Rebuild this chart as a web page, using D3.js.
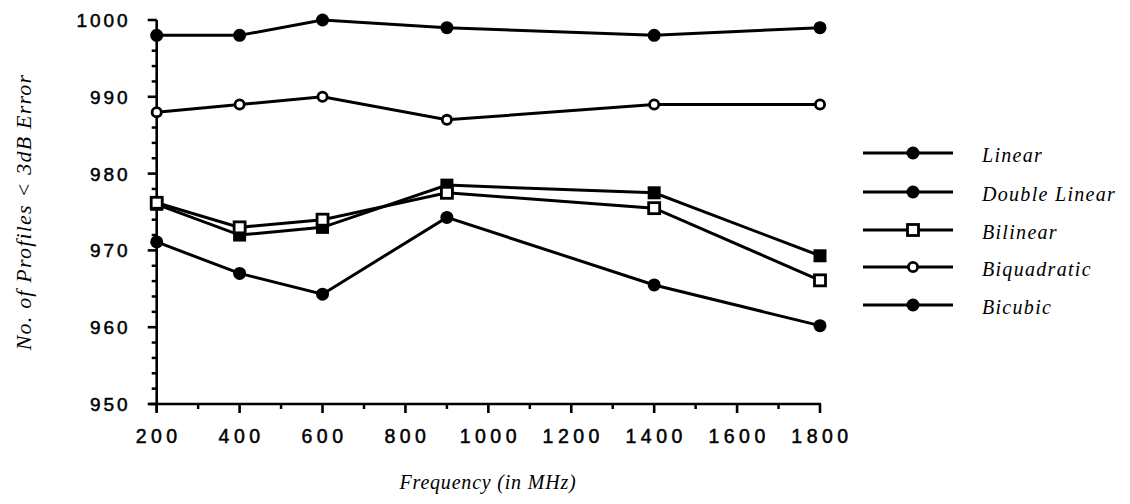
<!DOCTYPE html>
<html><head><meta charset="utf-8">
<script src="https://cdn.jsdelivr.net/npm/d3@7"></script>
<style>body{margin:0;background:#fff}svg{display:block}</style>
</head><body>
<script>
const freqs = [200, 400, 600, 900, 1400, 1800];
const topFilled = [998, 998, 1000, 999, 998, 999];
const biquadratic = [988, 989, 990, 987, 989, 989];
const doubleLinearSq = [976, 972, 973, 978.5, 977.5, 969.3];
const bilinear = [976.2, 973, 974, 977.5, 975.5, 966.1];
const bottomFilled = [971.1, 967, 964.3, 974.3, 965.5, 960.2];
const legendLabels = ["Linear", "Double Linear", "Bilinear", "Biquadratic", "Bicubic"];
const legendMarkers = ["fcircle", "fcircle", "osquare", "ocircle", "fcircle"];
const xTicks = [200, 400, 600, 800, 1000, 1200, 1400, 1600, 1800];
const yTicks = [950, 960, 970, 980, 990, 1000];

const series = [
  {v: topFilled, m: "fcircle"},
  {v: biquadratic, m: "ocircle"},
  {v: doubleLinearSq, m: "fsquare"},
  {v: bilinear, m: "osquare"},
  {v: bottomFilled, m: "fcircle"}
];

const W = 1130, H = 504;
const svg = d3.select("body").append("svg").attr("width", W).attr("height", H);
const x = d3.scaleLinear().domain([200, 1800]).range([156.7, 820]);
const y = d3.scaleLinear().domain([950, 1000]).range([404, 20]);

const tickFont = "'Liberation Sans', Arial, sans-serif";
const serif = "'Liberation Serif', 'Times New Roman', serif";

// axes lines
svg.append("line").attr("x1", x(200)).attr("x2", x(200)).attr("y1", y(1000)).attr("y2", y(950) + 8)
  .attr("stroke", "#000").attr("stroke-width", 2.6);
svg.append("line").attr("x1", x(200) - 8).attr("x2", x(1800) + 1).attr("y1", y(950)).attr("y2", y(950))
  .attr("stroke", "#000").attr("stroke-width", 2.6);

// y ticks
const yMinor = d3.range(952, 1000, 2).filter(d => d % 10 !== 0);
svg.selectAll(".ymaj").data(yTicks).join("line")
  .attr("x1", x(200) - 9).attr("x2", x(200)).attr("y1", d => y(d)).attr("y2", d => y(d))
  .attr("stroke", "#000").attr("stroke-width", 2.6);
svg.selectAll(".ymin").data(yMinor).join("line")
  .attr("x1", x(200) - 5).attr("x2", x(200)).attr("y1", d => y(d)).attr("y2", d => y(d))
  .attr("stroke", "#000").attr("stroke-width", 2.5);
svg.selectAll(".ylab").data(yTicks).join("text")
  .attr("x", x(200) - 26).attr("y", d => y(d) + 7)
  .attr("text-anchor", "end").attr("font-family", tickFont).attr("font-size", 19)
  .attr("stroke", "#000").attr("stroke-width", 0.5)
  .attr("letter-spacing", 3).text(d => d);

// x ticks
const xMinor = d3.range(300, 1800, 200);
svg.selectAll(".xmaj").data(xTicks).join("line")
  .attr("x1", d => x(d)).attr("x2", d => x(d)).attr("y1", y(950)).attr("y2", y(950) + 9)
  .attr("stroke", "#000").attr("stroke-width", 2.6);
svg.selectAll(".xmin").data(xMinor).join("line")
  .attr("x1", d => x(d)).attr("x2", d => x(d)).attr("y1", y(950)).attr("y2", y(950) + 5)
  .attr("stroke", "#000").attr("stroke-width", 2.5);
svg.selectAll(".xlab").data(xTicks).join("text")
  .attr("x", d => x(d) + 2).attr("y", 443)
  .attr("text-anchor", "middle").attr("font-family", tickFont).attr("font-size", 19.5)
  .attr("stroke", "#000").attr("stroke-width", 0.5)
  .attr("letter-spacing", 4.5).text(d => d);

// axis titles
svg.append("text").attr("x", 488).attr("y", 489).attr("text-anchor", "middle")
  .attr("font-family", serif).attr("font-style", "italic").attr("font-size", 20)
  .attr("letter-spacing", 0.8)
  .text("Frequency (in MHz)");
svg.append("text").attr("transform", "translate(31,212) rotate(-90)").attr("text-anchor", "middle")
  .attr("font-family", serif).attr("font-style", "italic").attr("font-size", 22)
  .attr("letter-spacing", 1.2)
  .text("No. of Profiles < 3dB Error");

function marker(g, type, cx, cy) {
  if (type === "fcircle") g.append("circle").attr("cx", cx).attr("cy", cy).attr("r", 6.5).attr("fill", "#000");
  else if (type === "ocircle") g.append("circle").attr("cx", cx).attr("cy", cy).attr("r", 4.6).attr("fill", "#fff").attr("stroke", "#000").attr("stroke-width", 2.8);
  else if (type === "fsquare") g.append("rect").attr("x", cx - 6.5).attr("y", cy - 6.5).attr("width", 13).attr("height", 13).attr("fill", "#000");
  else if (type === "osquare") g.append("rect").attr("x", cx - 5.5).attr("y", cy - 5.5).attr("width", 11).attr("height", 11).attr("fill", "#fff").attr("stroke", "#000").attr("stroke-width", 2.8);
}

const line = d3.line().x((d, i) => x(freqs[i])).y(d => y(d));
series.forEach(s => {
  svg.append("path").attr("d", line(s.v)).attr("fill", "none").attr("stroke", "#000").attr("stroke-width", 3);
});
series.forEach(s => {
  const g = svg.append("g");
  s.v.forEach((v, i) => marker(g, s.m, x(freqs[i]), y(v)));
});

// legend
const legY = [153, 192, 230, 267, 305];
legendLabels.forEach((lab, i) => {
  const g = svg.append("g");
  g.append("line").attr("x1", 863).attr("x2", 953).attr("y1", legY[i]).attr("y2", legY[i])
    .attr("stroke", "#000").attr("stroke-width", 3);
  marker(g, legendMarkers[i], 913, legY[i]);
  g.append("text").attr("x", 982).attr("y", legY[i] + 9)
    .attr("font-family", serif).attr("font-style", "italic").attr("font-size", 20)
    .attr("letter-spacing", 1.3).text(lab);
});
</script>
</body></html>
